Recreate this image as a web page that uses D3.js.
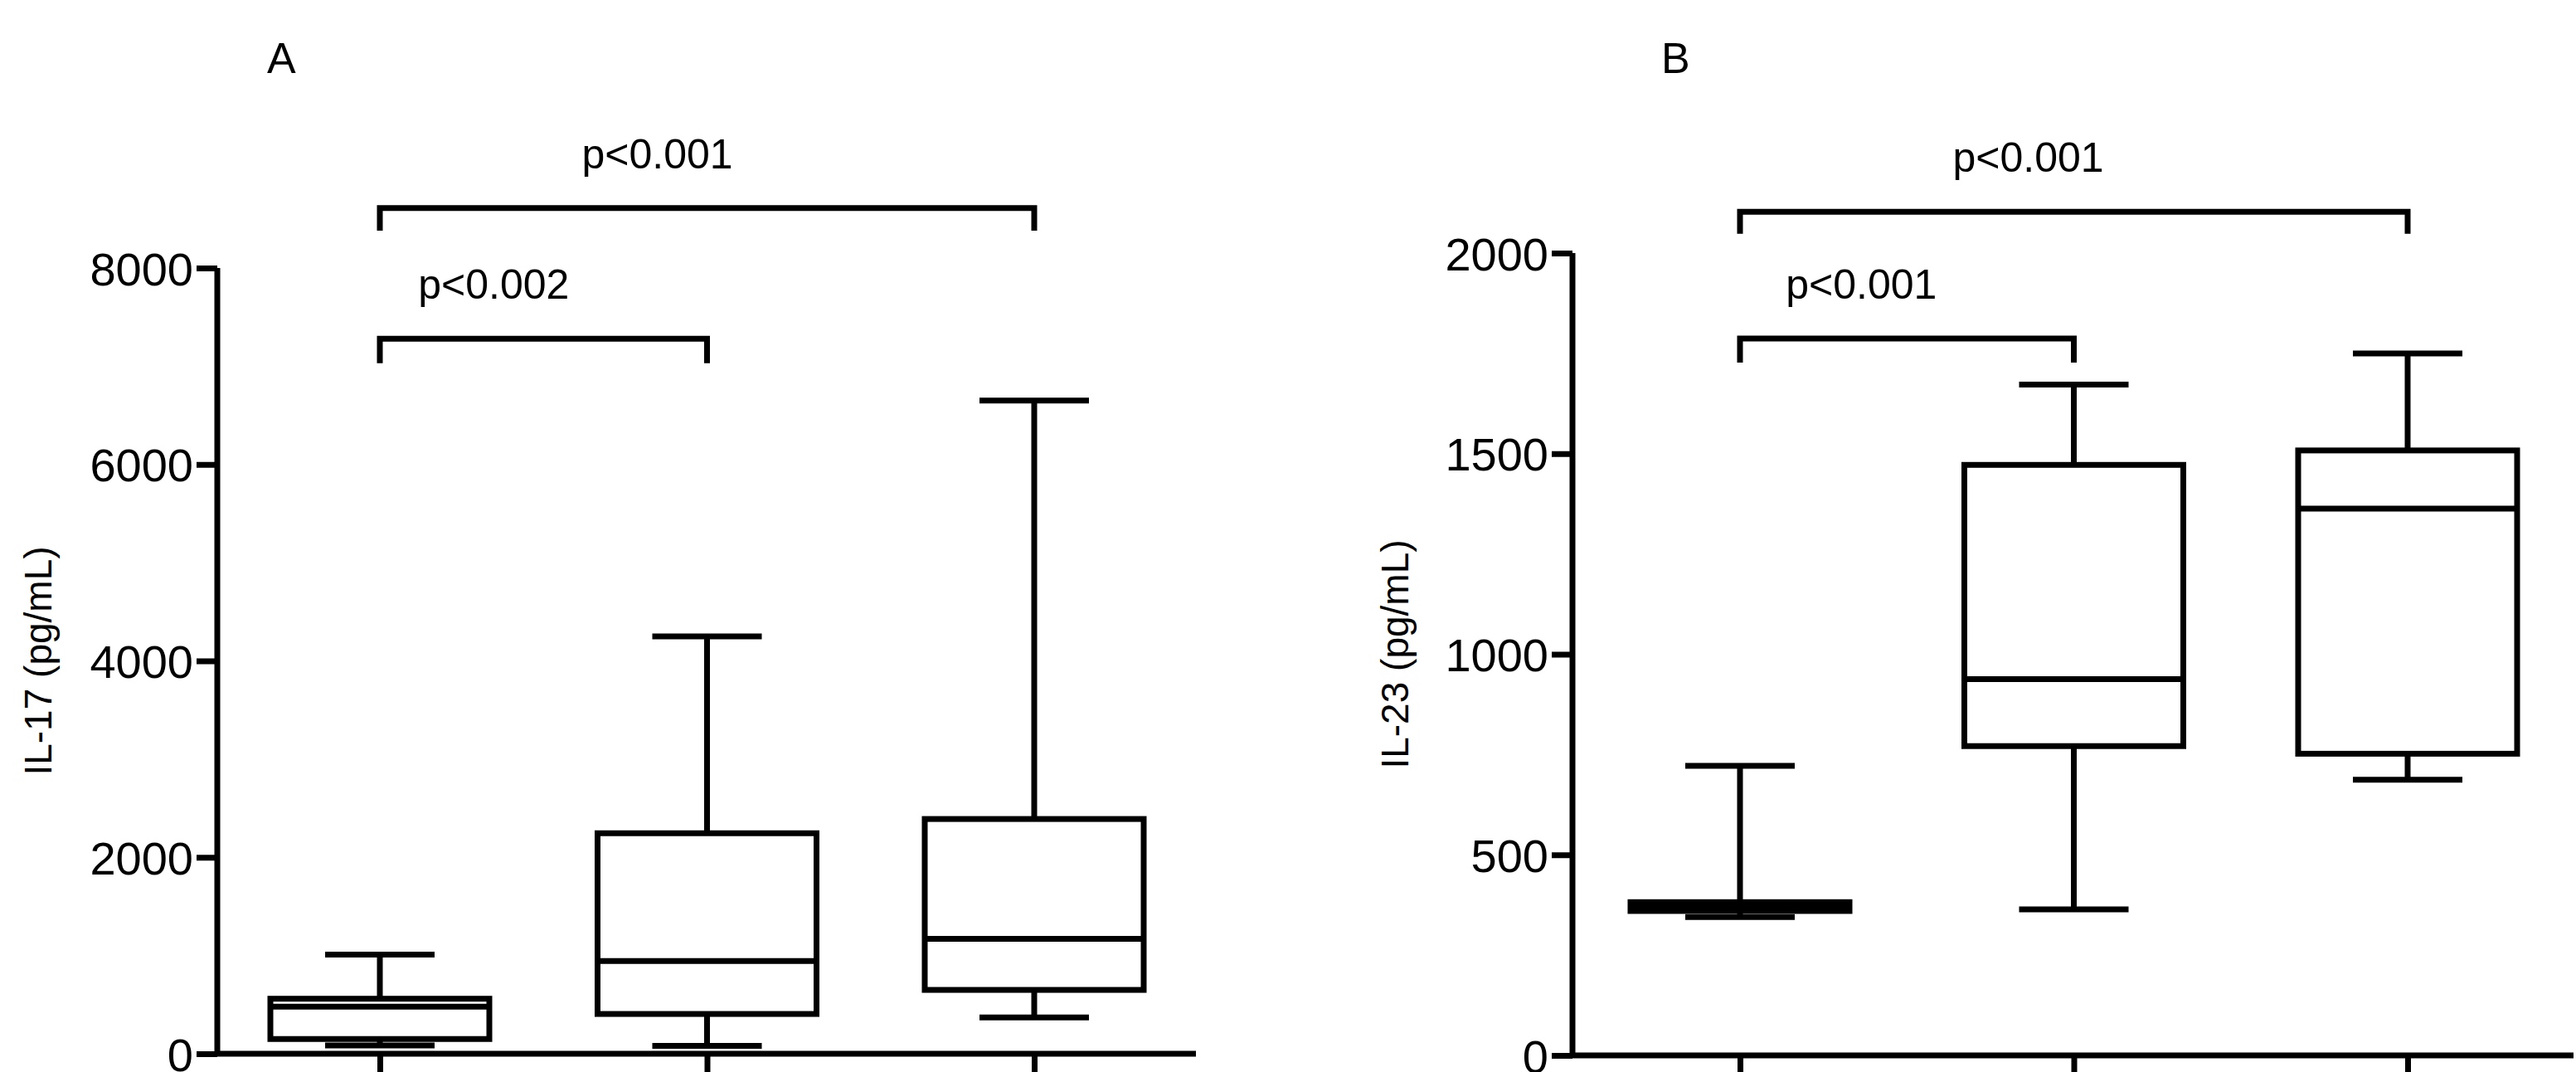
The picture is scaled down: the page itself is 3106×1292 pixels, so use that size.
<!DOCTYPE html>
<html>
<head>
<meta charset="utf-8">
<script src="https://cdn.jsdelivr.net/npm/d3@7"></script>
<style>
  body { margin: 0; background: #fff; overflow: hidden; }
  svg { display: block; }
  text { font-family: "Liberation Sans", Arial, sans-serif; fill: #000; }
</style>
</head>
<body>
<div id="chart"></div>
<script>
const width = 3106, height = 1292;

// categories shared by both panels
const groups = ["controls", "CD", "UC"];

// IL-17 box stats: [min, q1, median, q3, max]
const il17Stats = [
  [85, 150, 480, 560, 1010],
  [80, 405, 945, 2245, 4250],
  [370, 650, 1170, 2390, 6650]
];
const il17Ticks = [0, 2000, 4000, 6000, 8000];

// IL-23 box stats
const il23Stats = [
  [345, 360, 372, 382, 722],
  [364, 771, 938, 1472, 1672],
  [687, 752, 1363, 1508, 1750]
];
const il23Ticks = [0, 500, 1000, 1500, 2000];

// significance brackets: [fromGroup, toGroup, level, tickEnd, label]
const il17Sig = [
  ["controls", "CD", 7280, 7030, "p<0.002"],
  ["controls", "UC", 8610, 8380, "p<0.001"]
];
const il23Sig = [
  ["controls", "CD", 1787, 1727, "p<0.001"],
  ["controls", "UC", 2103, 2048, "p<0.001"]
];

const svg = d3.select("#chart").append("svg")
  .attr("width", width).attr("height", height);

function drawPanel(opt) {
  const g = svg.append("g");
  const y = d3.scaleLinear().domain([0, opt.max]).range([opt.y0, opt.y1]);
  const x = d3.scalePoint().domain(groups).range(opt.xr);
  const sw = 7, bw = 264;

  // y axis
  const ya = g.append("g").attr("transform", `translate(${opt.ax},0)`)
    .call(d3.axisLeft(y).tickValues(opt.ticks).tickSize(25).tickPadding(4).tickFormat(d3.format("d")));
  ya.select(".domain").attr("stroke-width", sw).attr("d", `M0,${y(opt.max)}V${opt.y0}`);
  ya.selectAll(".tick line").attr("stroke-width", sw);
  ya.selectAll(".tick text").style("font-size", "56px").attr("dy", "0.36em");

  // x axis
  const xa = g.append("g").attr("transform", `translate(0,${opt.y0})`)
    .call(d3.axisBottom(x).tickSize(30).tickFormat(""));
  xa.select(".domain").attr("stroke-width", sw).attr("d", `M${opt.ax},0H${opt.xEnd}`);
  xa.selectAll(".tick line").attr("stroke-width", sw);
  xa.selectAll(".tick").append("text")
    .attr("transform", "translate(10,62) rotate(-45)")
    .attr("text-anchor", "end").attr("dy", "0.7em")
    .style("font-size", "56px").text(d => d);

  // boxes
  opt.stats.forEach((s, i) => {
    const cx = x(groups[i]);
    const b = g.append("g").attr("stroke", "#000").attr("stroke-width", sw).attr("fill", "none");
    b.append("line").attr("x1", cx).attr("x2", cx).attr("y1", y(s[0])).attr("y2", y(s[1]));
    b.append("line").attr("x1", cx).attr("x2", cx).attr("y1", y(s[3])).attr("y2", y(s[4]));
    b.append("line").attr("x1", cx - bw / 4).attr("x2", cx + bw / 4).attr("y1", y(s[0])).attr("y2", y(s[0]));
    b.append("line").attr("x1", cx - bw / 4).attr("x2", cx + bw / 4).attr("y1", y(s[4])).attr("y2", y(s[4]));
    b.append("rect").attr("x", cx - bw / 2).attr("width", bw)
      .attr("y", y(s[3])).attr("height", y(s[1]) - y(s[3])).attr("fill", "#fff");
    b.append("line").attr("x1", cx - bw / 2).attr("x2", cx + bw / 2).attr("y1", y(s[2])).attr("y2", y(s[2]));
  });

  // brackets
  opt.sig.forEach(s => {
    const xa1 = x(s[0]), xa2 = x(s[1]);
    g.append("path").attr("fill", "none").attr("stroke", "#000").attr("stroke-width", sw)
      .attr("d", `M${xa1},${y(s[3])}V${y(s[2])}H${xa2}V${y(s[3])}`);
    g.append("text").attr("x", (xa1 + xa2) / 2 + opt.pShift).attr("y", y(s[2]) - 48)
      .attr("text-anchor", "middle").style("font-size", "50px").text(s[4]);
  });

  // y label
  g.append("text").attr("transform", `translate(${opt.labX},${(opt.y0 + y(opt.max)) / 2}) rotate(-90)`)
    .attr("text-anchor", "middle").style("font-size", "46px").text(opt.label);

  // panel letter
  g.append("text").attr("x", opt.letterX).attr("y", 88).style("font-size", "52px").text(opt.letter);
}

drawPanel({
  stats: il17Stats, ticks: il17Ticks, sig: il17Sig, max: 8000,
  y0: 1270, y1: 323, ax: 262, xr: [458, 1247], xEnd: 1442, pShift: -60,
  label: "IL-17 (pg/mL)", labX: 62, letter: "A", letterX: 322
});

drawPanel({
  stats: il23Stats, ticks: il23Ticks, sig: il23Sig, max: 2000,
  y0: 1272, y1: 305, ax: 1896, xr: [2098, 2903], xEnd: 3103, pShift: -55,
  label: "IL-23 (pg/mL)", labX: 1698, letter: "B", letterX: 2003
});
</script>
</body>
</html>
